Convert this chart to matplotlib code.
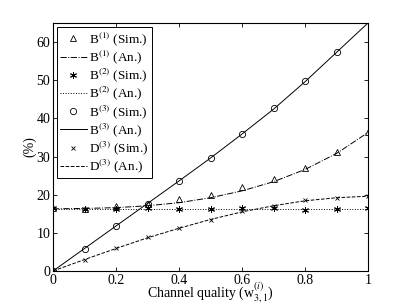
import numpy as np
import matplotlib.pyplot as plt

plt.rcParams['font.family'] = ['Liberation Serif', 'DejaVu Serif']
plt.rcParams['mathtext.fontset'] = 'stix'

w = [0.0, 0.1, 0.2, 0.3, 0.4, 0.5, 0.6, 0.7, 0.8, 0.9, 1.0]

b1_sim = [16.5, 16.3, 17.0, 17.5, 18.8, 19.8, 21.9, 24.0, 26.9, 31.1, 36.5]
b1_an = [16.3, 16.4, 16.6, 17.1, 17.9, 19.2, 21.0, 23.4, 26.6, 30.8, 36.3]
b2_sim = [16.4, 16.3, 16.3, 16.4, 16.3, 16.3, 16.4, 16.4, 16.1, 16.2, 16.4]
b2_an = [16.3, 16.3, 16.3, 16.3, 16.3, 16.3, 16.3, 16.3, 16.3, 16.3, 16.3]
b3_sim = [0.0, 5.8, 11.7, 17.6, 23.5, 29.6, 36.0, 42.6, 49.7, 57.5]
b3_an = [0.0, 5.9, 11.8, 17.7, 23.6, 29.6, 35.9, 42.4, 49.6, 57.3, 65.0]
d3_sim = [0.0, 2.9, 6.0, 8.8, 11.4, 13.4, 15.8, 17.0, 18.6, 19.1, 19.6]
d3_an = [0.0, 3.0, 5.9, 8.7, 11.2, 13.5, 15.5, 17.1, 18.4, 19.2, 19.6]

fig = plt.figure(figsize=(4.07, 3.06), dpi=100)
ax = fig.add_axes([53 / 407, 1 - 271 / 306, 315 / 407, 248 / 306])

lw = 0.7
star = (6, 2, 0)
ax.plot(w, b1_sim, linestyle='none', marker='^', mfc='none', mec='k', ms=4.5, mew=0.6, label='B$^{(1)}$ (Sim.)')
ax.plot(w, b1_an, 'k-.', lw=lw, label='B$^{(1)}$ (An.)')
ax.plot(w, b2_sim, linestyle='none', marker=star, color='k', ms=5, mew=0.7, label='B$^{(2)}$ (Sim.)')
ax.plot(w, b2_an, 'k:', lw=lw, label='B$^{(2)}$ (An.)')
ax.plot(w[:len(b3_sim)], b3_sim, linestyle='none', marker='o', mfc='none', mec='k', ms=4.5, mew=0.6, label='B$^{(3)}$ (Sim.)')
ax.plot(w, b3_an, 'k-', lw=lw, label='B$^{(3)}$ (An.)')
ax.plot(w, d3_sim, linestyle='none', marker='x', color='k', ms=3.5, mew=0.6, label='D$^{(3)}$ (Sim.)')
ax.plot(w, d3_an, 'k--', lw=lw, label='D$^{(3)}$ (An.)')

ax.set_xlim(0, 1)
ax.set_ylim(0, 65)
ax.set_xticks([0, 0.2, 0.4, 0.6, 0.8, 1])
ax.set_xticklabels(['0', '0.2', '0.4', '0.6', '0.8', '1'])
ax.set_yticks([0, 10, 20, 30, 40, 50, 60])
ax.tick_params(direction='in', top=True, right=True, labelsize=10, length=3, width=0.6, pad=2)
for s in ax.spines.values():
    s.set_linewidth(0.8)

ax.set_xlabel('Channel quality (w$^{(i)}_{3,1}$)', fontsize=10, labelpad=-4)
ax.set_ylabel('(%)', fontsize=10, labelpad=0)

leg = ax.legend(loc='upper left', fontsize=9.5, frameon=True, fancybox=False,
                edgecolor='k', framealpha=1, handlelength=2.0, labelspacing=0.05,
                borderaxespad=0.3, handletextpad=0.2, borderpad=0.25)
leg.get_frame().set_linewidth(0.7)

fig.savefig('out.png', dpi=100)
